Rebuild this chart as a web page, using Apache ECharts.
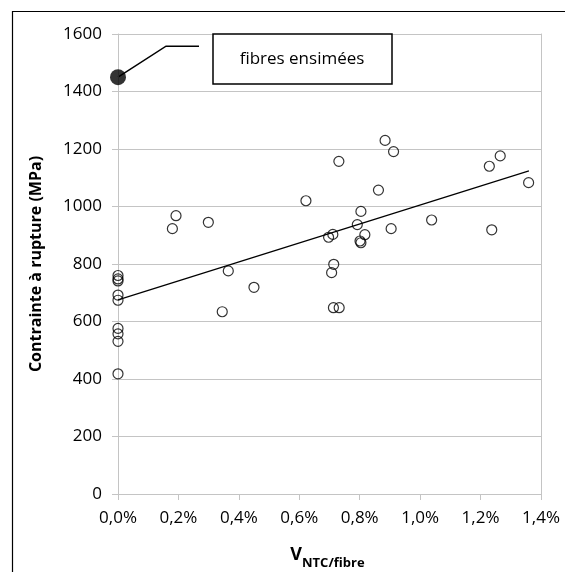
<!DOCTYPE html>
<html>
<head>
<meta charset="utf-8">
<script src="https://cdn.jsdelivr.net/npm/echarts@6/dist/echarts.min.js"></script>
<style>
  html, body { margin: 0; padding: 0; background: #fff; }
  #container { width: 565px; height: 572px; }
</style>
</head>
<body>
<div id="container"></div>
<script>
// données (V en %, contrainte en MPa)
var vntc = [0, 0, 0, 0, 0, 0, 0, 0, 0,
  0.180, 0.192, 0.299, 0.345, 0.365, 0.450, 0.622, 0.697, 0.707, 0.711,
  0.714, 0.713, 0.731, 0.732, 0.792, 0.801, 0.804, 0.804, 0.817, 0.862,
  0.884, 0.904, 0.912, 1.038, 1.229, 1.237, 1.265, 1.359];
var contrainte = [760, 748, 741, 692, 674, 576, 557, 531, 418,
  923, 968, 945, 634, 776, 719, 1020, 893, 770, 903,
  799, 648, 1157, 648, 937, 880, 874, 983, 902, 1057,
  1230, 923, 1191, 953, 1140, 919, 1176, 1083];
var ensimeesX = [0];
var ensimeesY = [1450];
var trendX = [0, 1.36];
var trendY = [675, 1124];
var yTicks = [0, 200, 400, 600, 800, 1000, 1200, 1400, 1600];

var dom = document.getElementById('container');
var myChart = echarts.init(dom, null, { renderer: 'canvas' });

var font = 'Open Sans';
var gris = '#c4c4c4';

var pts = vntc.map(function (v, i) { return [v, contrainte[i]]; });
var ens = ensimeesX.map(function (v, i) { return [v, ensimeesY[i]]; });
var trend = trendX.map(function (v, i) { return [v, trendY[i]]; });

var option = {
  animation: false,
  backgroundColor: '#fff',
  grid: { left: 118, right: 24, top: 34, bottom: 78 },
  xAxis: {
    type: 'value',
    min: 0, max: 1.4, interval: 0.2,
    axisLine: { show: true, lineStyle: { color: gris } },
    axisTick: { show: true, length: 6, lineStyle: { color: gris } },
    splitLine: { show: false },
    axisLabel: {
      margin: 16, color: '#000', fontFamily: font, fontSize: 17,
      formatter: function (v) { return v.toFixed(1).replace('.', ',') + '%'; }
    }
  },
  yAxis: [{
    type: 'value',
    min: yTicks[0], max: yTicks[yTicks.length - 1], interval: 200,
    name: 'Contrainte à rupture (MPa)',
    nameLocation: 'middle',
    nameGap: 74,
    nameTextStyle: { fontFamily: font, fontSize: 16, fontWeight: 'bold', color: '#000' },
    axisLine: { show: true, lineStyle: { color: gris } },
    axisTick: { show: true, length: 6, lineStyle: { color: gris } },
    splitLine: { show: true, lineStyle: { color: gris } },
    axisLabel: {
      margin: 16, color: '#000', fontFamily: font, fontSize: 17,
      formatter: function (v) { return String(v); }
    }
  }, {
    type: 'value',
    position: 'right',
    min: 0, max: 1600,
    axisLine: { show: true, lineStyle: { color: gris } },
    axisTick: { show: false },
    axisLabel: { show: false },
    splitLine: { show: false }
  }],
  series: [
    {
      name: 'mesures',
      type: 'scatter',
      data: pts,
      symbol: 'circle',
      symbolSize: 10,
      itemStyle: { color: 'rgba(0,0,0,0)', borderColor: '#000', borderWidth: 1.2 },
      z: 3
    },
    {
      name: 'tendance',
      type: 'line',
      data: trend,
      showSymbol: false,
      lineStyle: { color: '#000', width: 1.2 },
      z: 2
    },
    {
      name: 'fibres ensimées',
      type: 'scatter',
      data: ens,
      symbolSize: 16,
      itemStyle: { color: '#000' },
      z: 4
    }
  ]
};

myChart.setOption(option);

// légende façon Excel : point relié à une boîte
var p = myChart.convertToPixel({ xAxisIndex: 0, yAxisIndex: 0 }, ens[0]);
myChart.setOption({
  graphic: [
    {
      type: 'rect', silent: true,
      shape: { x: 12.5, y: 11.5, width: 620, height: 620 },
      style: { fill: 'none', stroke: '#000', lineWidth: 1.2 }
    },
    {
      type: 'polyline', silent: true,
      shape: { points: [[p[0], p[1]], [p[0] + 48, p[1] - 31], [p[0] + 81, p[1] - 31]] },
      style: { fill: 'none', stroke: '#000', lineWidth: 1.5 }
    },
    {
      type: 'rect', silent: true,
      shape: { x: 213, y: 34, width: 179, height: 50 },
      style: { fill: '#fff', stroke: '#000', lineWidth: 1.5 }
    },
    {
      type: 'text', silent: true,
      x: 302, y: 59,
      style: { text: 'fibres ensimées', fontFamily: font, fontSize: 17, fill: '#000', align: 'center', verticalAlign: 'middle' }
    },
    {
      type: 'text', silent: true,
      x: 302, y: 555,
      style: { text: 'V', fontFamily: font, fontSize: 18, fontWeight: 'bold', fill: '#000', align: 'right', verticalAlign: 'middle' }
    },
    {
      type: 'text', silent: true,
      x: 302, y: 563,
      style: { text: 'NTC/fibre', fontFamily: font, fontSize: 13, fontWeight: 'bold', fill: '#000', align: 'left', verticalAlign: 'middle' }
    }
  ]
});

window.addEventListener('resize', myChart.resize);
</script>
</body>
</html>
